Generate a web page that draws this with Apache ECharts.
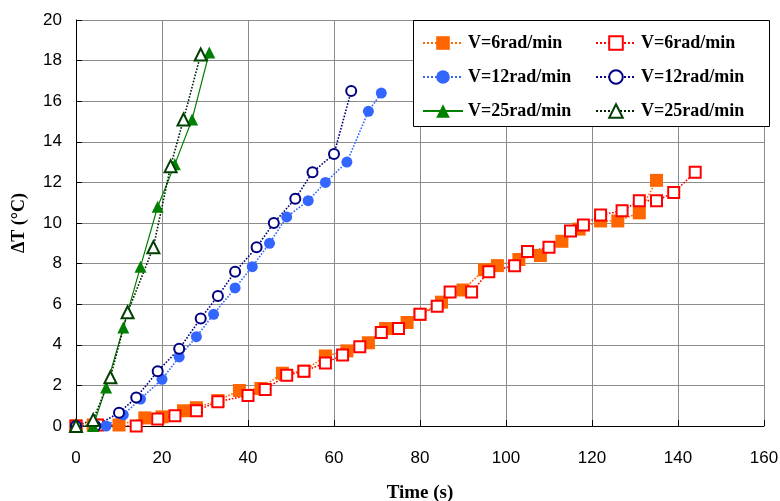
<!DOCTYPE html>
<html>
<head>
<meta charset="utf-8">
<script src="https://cdn.jsdelivr.net/npm/echarts@6/dist/echarts.min.js"></script>
<style>html,body{margin:0;padding:0;background:#fff}#c{width:780px;height:501px}</style>
</head>
<body>
<div id="c"></div>
<script>
// V=6rad/min (run 1, filled squares)
const t6a  = [0,4,10,16,20,25,28,33,38,43,48,53,58,63,68,72,77,80,85,90,95,98,103,108,113,117,122,126,131,135];
const dT6a = [0,0.05,0.05,0.4,0.45,0.75,0.9,1.25,1.75,1.85,2.6,2.7,3.45,3.7,4.1,4.8,5.1,5.5,6.1,6.7,7.7,7.9,8.2,8.4,9.1,9.7,10.1,10.1,10.5,12.1];
// V=6rad/min (run 2, open squares)
const t6b  = [0,5,14,19,23,28,33,40,44,49,53,58,62,66,71,75,80,84,87,92,96,102,105,110,115,118,122,127,131,135,139,144];
const dT6b = [0,0.05,0,0.35,0.5,0.75,1.2,1.5,1.8,2.5,2.7,3.1,3.5,3.9,4.6,4.8,5.5,5.9,6.6,6.6,7.6,7.9,8.6,8.8,9.6,9.9,10.4,10.6,11.1,11.1,11.5,12.5];
// V=12rad/min (run 1, filled circles)
const t12a  = [0,7,11,15,20,24,28,32,37,41,45,49,54,58,63,68,71];
const dT12a = [0,0,0.55,1.33,2.3,3.4,4.4,5.5,6.8,7.85,9.0,10.3,11.1,12.0,13.0,15.5,16.4];
// V=12rad/min (run 2, open circles)
const t12b  = [0,4.5,10,14,19,24,29,33,37,42,46,51,55,60,64];
const dT12b = [0,0,0.65,1.4,2.7,3.8,5.3,6.4,7.6,8.8,10.0,11.2,12.5,13.4,16.5];
// V=25rad/min (run 1, filled triangles)
const t25a  = [0,4,7,11,15,19,23,27,31];
const dT25a = [0,0,1.9,4.85,7.85,10.8,12.9,15.1,18.4];
// V=25rad/min (run 2, open triangles)
const t25b  = [0,4,8,12,18,22,25,29];
const dT25b = [0,0.3,2.4,5.6,8.8,12.8,15.1,18.3];

const xTicks = [0,20,40,60,80,100,120,140,160];
const yTicks = [0,2,4,6,8,10,12,14,16,18,20];

const names = ['V=6rad/min','V=6rad/min\u200b','V=12rad/min','V=12rad/min\u200b','V=25rad/min','V=25rad/min\u200b'];

function zip(a,b){return a.map((v,i)=>[v,b[i]]);}

function mk(name, t, v, symbol, size, color, lineColor, lineType, filled){
  return {
    name: name, type: 'line', data: zip(t,v),
    symbol: symbol, symbolSize: size, showAllSymbol: true,
    lineStyle: {color: lineColor, width: lineType==='solid'?1.2:1.6, type: lineType},
    itemStyle: filled ? {color: color} : {color: color, borderColor: color, borderWidth: 1.5},
    emphasis: {disabled: true}, animation: false
  };
}

const chart = echarts.init(document.getElementById('c'), null, {renderer:'canvas'});
const legText = {fontFamily:'Liberation Serif', fontWeight:'bold', fontSize:18, color:'#000'};
chart.setOption({
  backgroundColor: '#fff',
  animation: false,
  grid: {left:76, right:16, top:20, bottom:75, containLabel:false, outerBoundsMode:'none'},
  graphic: [{type:'rect', shape:{x:413.5, y:20.5, width:356, height:106}, style:{fill:'#fff', stroke:'#000', lineWidth:1}, z:5}],
  legend: [
    {data:[names[0],names[2],names[4]], orient:'vertical', left:417, top:29, itemWidth:40, itemHeight:17, itemGap:16,
     textStyle:legText, formatter: n=>n.replace('\u200b',''), z:10, selectedMode:false},
    {data:[names[1],names[3],names[5]], orient:'vertical', left:590, top:29, itemWidth:40, itemHeight:17, itemGap:16,
     textStyle:legText, formatter: n=>n.replace('\u200b',''), z:10, selectedMode:false}
  ],
  xAxis: {
    type:'value', min:0, max:160, interval:20,
    name:'Time (s)', nameLocation:'middle', nameGap:58,
    nameTextStyle:{fontFamily:'Liberation Serif', fontWeight:'bold', fontSize:19, color:'#000'},
    axisLine:{lineStyle:{color:'#000', width:1}},
    axisTick:{inside:true, length:6, lineStyle:{color:'#000'}},
    axisLabel:{fontFamily:'Liberation Sans', fontSize:17, color:'#000', margin:24,
      formatter: v => xTicks.includes(v) ? String(v) : ''},
    splitLine:{show:true, lineStyle:{color:'#8c8c8c', width:1}}
  },
  yAxis: {
    type:'value', min:0, max:20, interval:2,
    name:'\u0394T (\u00b0C)', nameLocation:'middle', nameGap:48, nameRotate:90,
    nameTextStyle:{fontFamily:'Liberation Serif', fontWeight:'bold', fontSize:18, color:'#000'},
    axisLine:{show:true, lineStyle:{color:'#000', width:1}},
    axisTick:{show:true, inside:true, length:6, lineStyle:{color:'#000'}},
    axisLabel:{fontFamily:'Liberation Sans', fontSize:17, color:'#000', margin:14,
      formatter: v => yTicks.includes(v) ? String(v) : ''},
    splitLine:{show:true, lineStyle:{color:'#8c8c8c', width:1}}
  },
  series: [
    mk(names[0], t6a, dT6a, 'rect', 13, '#ff6600', '#ff6600', 'dotted', true),
    mk(names[1], t6b, dT6b, 'emptyRect', 11, '#ff0000', '#ff0000', 'dotted', false),
    mk(names[2], t12a, dT12a, 'circle', 11, '#3366ff', '#3366ff', 'dotted', true),
    mk(names[3], t12b, dT12b, 'emptyCircle', 10, '#000080', '#000080', 'dotted', false),
    mk(names[4], t25a, dT25a, 'triangle', 12, '#008000', '#008000', 'solid', true),
    mk(names[5], t25b, dT25b, 'emptyTriangle', 12, '#004000', '#002000', 'dotted', false)
  ]
});
</script>
</body>
</html>
